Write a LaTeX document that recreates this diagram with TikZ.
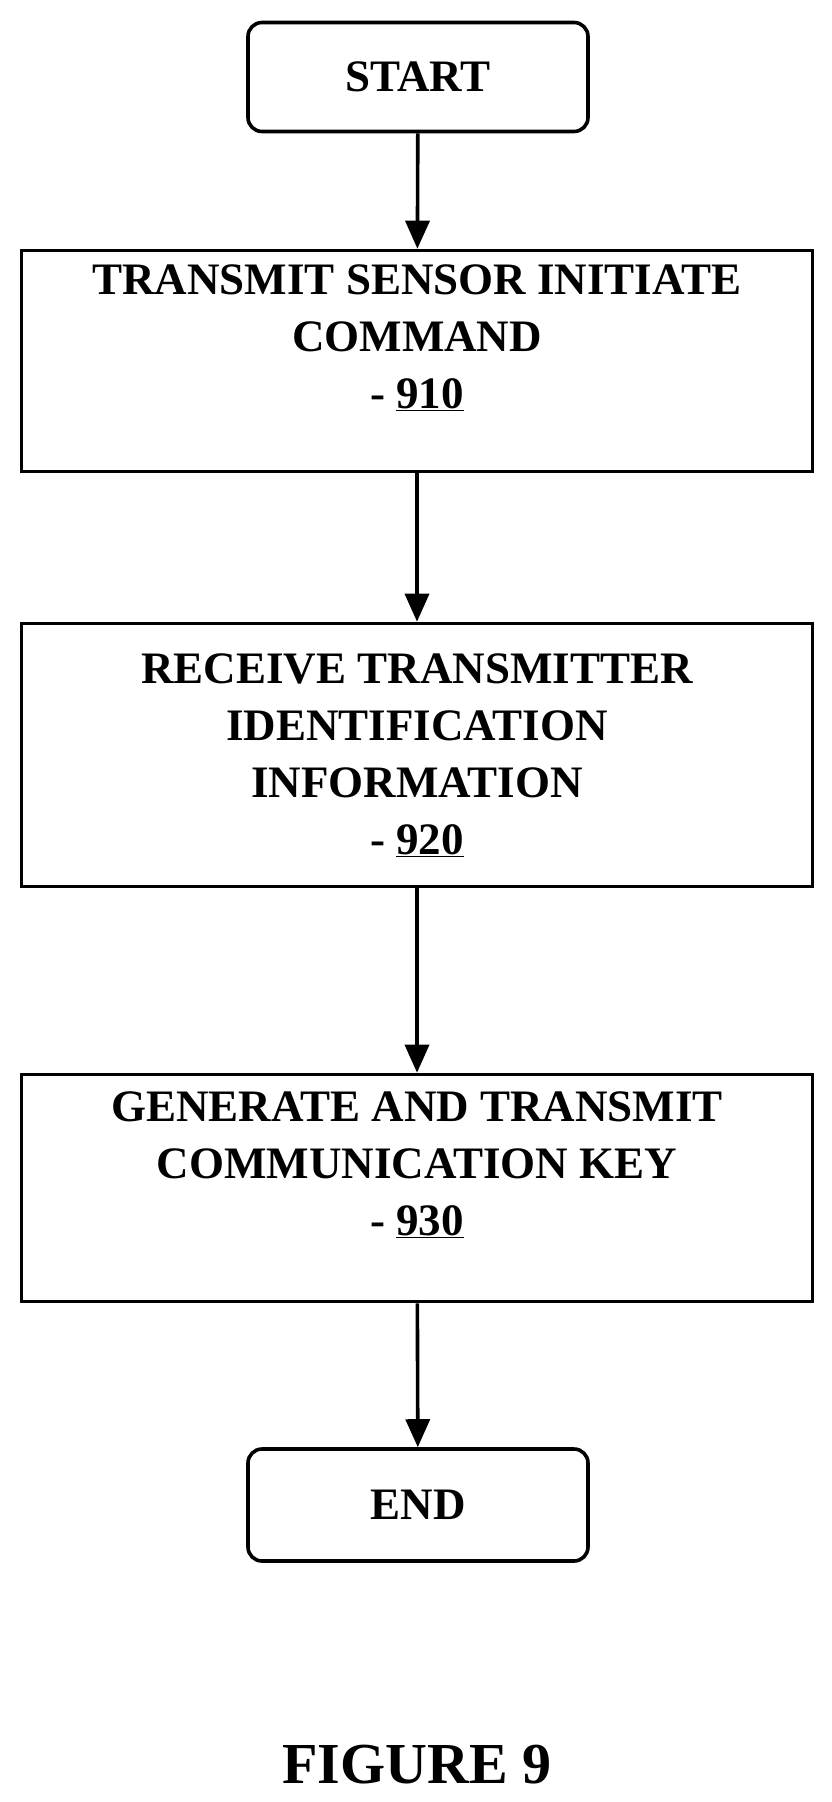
\documentclass[tikz,border=0pt]{standalone}
\usepackage{fontspec}
\setmainfont{Liberation Serif}
\usetikzlibrary{arrows.meta}
\begin{document}
\begin{tikzpicture}[x=1pt,y=-1pt,
  box/.style={draw,line width=3.6pt,align=center,font=\fontsize{45}{57}\selectfont\bfseries},
  term/.style={box,rounded corners=14pt},
  arr/.style={line width=3.6pt,-{Triangle[length=28pt,width=24pt]}}]
\useasboundingbox (0,0) rectangle (832,1802);
\node[term,minimum width=340pt,minimum height=109pt] (s) at (418,77) {START};
\node[box,minimum width=791pt,minimum height=221pt] (a) at (417,361) {TRANSMIT SENSOR INITIATE\\COMMAND\\- \underline{910}\\[-8pt]};
\node[box,minimum width=791pt,minimum height=263pt] (b) at (417,755) {RECEIVE TRANSMITTER\\IDENTIFICATION\\INFORMATION\\- \underline{920}};
\node[box,minimum width=791pt,minimum height=227pt] (c) at (417,1188) {GENERATE AND TRANSMIT\\COMMUNICATION KEY\\- \underline{930}\\[-8pt]};
\node[term,minimum width=340pt,minimum height=112pt] (e) at (418,1505) {END};
\node[font=\fontsize{58}{60}\selectfont\bfseries] (f) at (417,1765) {FIGURE 9};
\draw[arr] (s) -- (a);
\draw[arr] (a) -- (b);
\draw[arr] (b) -- (c);
\draw[arr] (c) -- (e);
\end{tikzpicture}
\end{document}
